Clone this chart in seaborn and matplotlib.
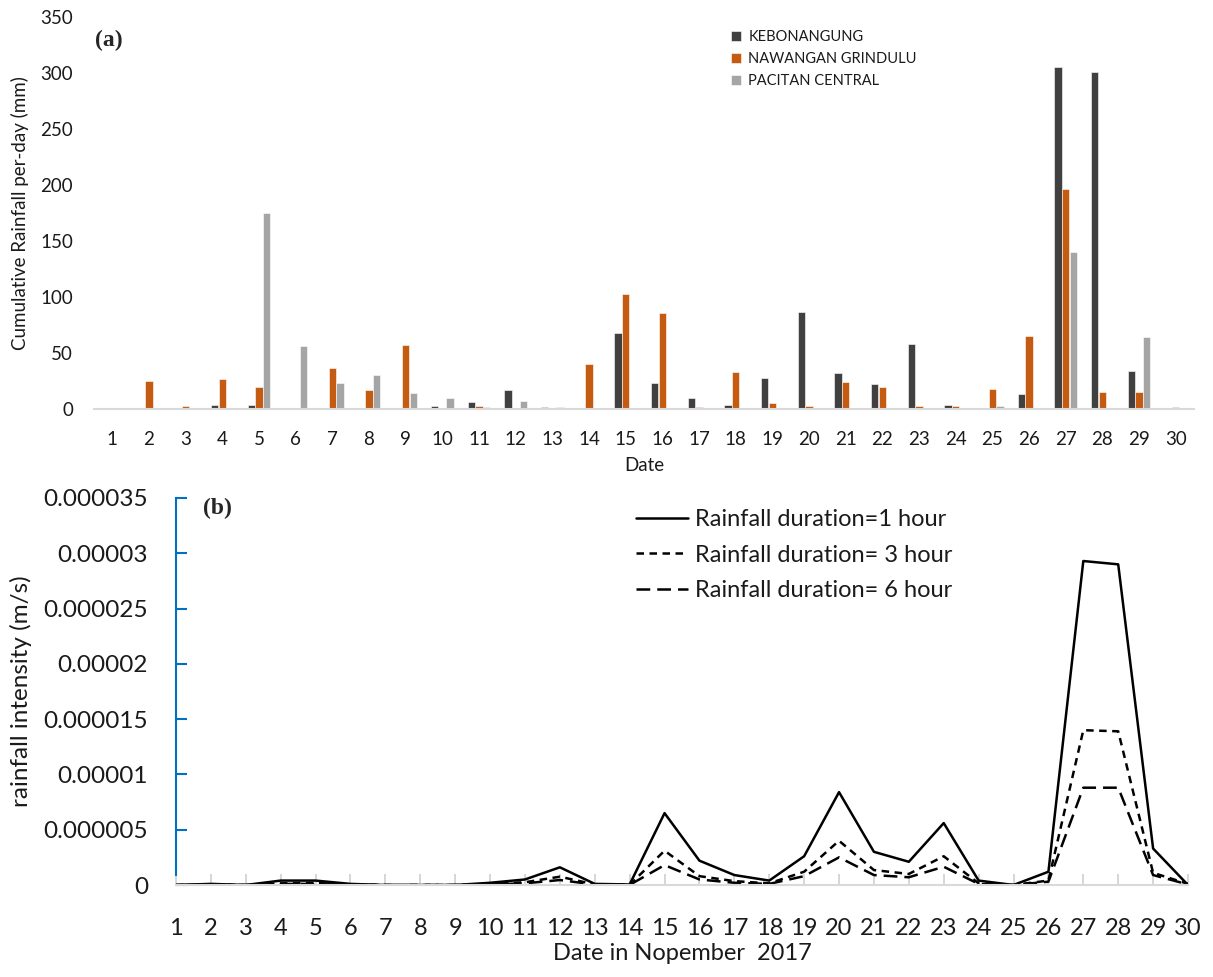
import matplotlib
matplotlib.use("Agg")
import matplotlib.pyplot as plt
import seaborn as sns
import pandas as pd

# ---------------- data ----------------
days = list(range(1, 31))
stations = ["KEBONANGUNG", "NAWANGAN GRINDULU", "PACITAN CENTRAL"]
kebonangung = [0, 1, 0, 4, 4, 1, 0, 0, 0, 3, 6, 17, 2, 1, 68, 23, 10, 4, 28, 87,
               32, 22, 58, 4, 0, 13, 305, 301, 34, 0]
nawangan = [0, 25, 3, 27, 20, 0, 37, 17, 57, 1, 3, 1, 0, 40, 103, 86, 2, 33, 5, 3,
            24, 20, 3, 3, 18, 65, 196, 15, 15, 2]
pacitan = [0, 0, 0, 0, 175, 56, 23, 30, 14, 10, 2, 7, 2, 1, 1, 0, 1, 0, 0, 0,
           0, 0, 0, 0, 3, 1, 140, 0, 64, 0]

durations = ["Rainfall duration=1 hour", "Rainfall duration= 3 hour", "Rainfall duration= 6 hour"]
int_1h = [0, 0.1e-6, 0, 0.4e-6, 0.4e-6, 0.1e-6, 0, 0, 0, 0.2e-6, 0.5e-6, 1.6e-6, 0.1e-6, 0.05e-6,
          6.5e-6, 2.2e-6, 0.9e-6, 0.4e-6, 2.6e-6, 8.4e-6, 3.0e-6, 2.1e-6, 5.6e-6, 0.4e-6, 0,
          1.2e-6, 29.3e-6, 29.0e-6, 3.3e-6, 0]
int_3h = [0, 0.05e-6, 0, 0.15e-6, 0.2e-6, 0.05e-6, 0, 0, 0, 0.1e-6, 0.25e-6, 0.75e-6, 0.05e-6, 0.02e-6,
          3.1e-6, 0.8e-6, 0.35e-6, 0.15e-6, 1.2e-6, 4.0e-6, 1.35e-6, 1.0e-6, 2.6e-6, 0.15e-6, 0,
          0.4e-6, 14.0e-6, 13.9e-6, 1.1e-6, 0.1e-6]
int_6h = [0, 0.03e-6, 0, 0.1e-6, 0.1e-6, 0.03e-6, 0, 0, 0, 0.05e-6, 0.15e-6, 0.45e-6, 0.03e-6, 0.01e-6,
          1.8e-6, 0.5e-6, 0.2e-6, 0.1e-6, 0.8e-6, 2.5e-6, 0.9e-6, 0.7e-6, 1.65e-6, 0.1e-6, 0,
          0.3e-6, 8.8e-6, 8.8e-6, 0.9e-6, 0.05e-6]

y2_ticks = [0, 5e-6, 10e-6, 15e-6, 20e-6, 25e-6, 30e-6, 35e-6]
y2_ticklabels = ["0", "0.000005", "0.00001", "0.000015", "0.00002", "0.000025", "0.00003", "0.000035"]

# ---------------- frames ----------------
df_bar = pd.DataFrame({
    "Date": days * 3,
    "Rainfall": kebonangung + nawangan + pacitan,
    "Station": [stations[0]] * 30 + [stations[1]] * 30 + [stations[2]] * 30,
})
df_line = pd.DataFrame({
    "Date": days * 3,
    "Intensity": int_1h + int_3h + int_6h,
    "Duration": [durations[0]] * 30 + [durations[1]] * 30 + [durations[2]] * 30,
})

sns.set_theme(style="white")
plt.rcParams["font.family"] = ["Lato", "DejaVu Sans"]

W, H = 1213, 977
fig = plt.figure(figsize=(W / 100, H / 100), dpi=100)

def px_axes(left, top, right, bottom):
    return fig.add_axes([left / W, 1 - bottom / H, (right - left) / W, (bottom - top) / H])

# ---------------- top panel ----------------
ax1 = px_axes(94, 17, 1194, 409)
palette = {stations[0]: "#404040", stations[1]: "#C55A11", stations[2]: "#A5A5A5"}
sns.barplot(data=df_bar, x="Date", y="Rainfall", hue="Station", hue_order=stations,
            order=days, palette=palette, width=0.63, gap=0.08, edgecolor="white",
            linewidth=0.4, saturation=1, ax=ax1)
ax1.set_xlim(-0.5, 29.5)
ax1.set_ylim(0, 350)
ax1.set_yticks(range(0, 351, 50))
for s in ["top", "right", "left"]:
    ax1.spines[s].set_visible(False)
ax1.spines["bottom"].set_color("#d9d9d9")
ax1.spines["bottom"].set_linewidth(1.5)
ax1.tick_params(axis="both", length=0, labelsize=13.5, labelcolor="#1a1a1a")
ax1.tick_params(axis="x", pad=16)
ax1.tick_params(axis="y", pad=15)
ax1.set_xlabel("Date", fontsize=13.5, labelpad=6, color="#1a1a1a")
ax1.set_ylabel("Cumulative Rainfall per-day (mm)", fontsize=13.5, labelpad=8, color="#1a1a1a")
ax1.grid(False)
leg1 = ax1.legend(loc="upper left", bbox_to_anchor=(731 / W, 1 - 30 / H),
                  bbox_transform=fig.transFigure, frameon=False, fontsize=10.5,
                  handlelength=0.7, handleheight=0.7, handletextpad=0.5,
                  labelspacing=0.55, borderaxespad=0, borderpad=0)
for t in leg1.get_texts():
    t.set_color("#1a1a1a")
fig.text(95 / W, 1 - 40 / H, "(a)", fontsize=17, fontweight="bold",
         family="Liberation Serif", va="center", ha="left")

# ---------------- bottom panel ----------------
ax2 = px_axes(176, 498, 1188, 885)
sns.lineplot(data=df_line, x="Date", y="Intensity", style="Duration", style_order=durations,
             dashes={durations[0]: "", durations[1]: (3, 2.2), durations[2]: (5.5, 2.8)},
             color="black", linewidth=1.8, ax=ax2)
ax2.set_xlim(1, 30)
ax2.set_ylim(0, 35e-6)
ax2.set_xticks(days)
ax2.set_xticklabels([str(d) for d in days])
ax2.set_yticks(y2_ticks)
ax2.set_yticklabels(y2_ticklabels)
for s in ["top", "right"]:
    ax2.spines[s].set_visible(False)
ax2.spines["bottom"].set_color("#d9d9d9")
ax2.spines["bottom"].set_linewidth(1.5)
ax2.spines["left"].set_color("#0070C0")
ax2.spines["left"].set_linewidth(1.5)
ax2.spines["left"].set_bounds(0.9e-6, 35e-6)
ax2.tick_params(axis="x", bottom=True, direction="in", length=8, width=1.2, color="#cfcfcf",
                labelsize=17, labelcolor="#1a1a1a", pad=24)
ax2.tick_params(axis="y", left=True, direction="in", length=8, width=1.5, color="#0070C0",
                labelsize=17.5, labelcolor="#1a1a1a", pad=20)
ax2.set_xlabel("Date in Nopember  2017", fontsize=17, labelpad=3, color="#1a1a1a")
ax2.set_ylabel("rainfall intensity (m/s)", fontsize=17.5, labelpad=8, color="#1a1a1a")
ax2.grid(False)
leg2 = ax2.legend(loc="upper left", bbox_to_anchor=(636 / W, 1 - 509 / H),
                  bbox_transform=fig.transFigure, frameon=False, fontsize=17,
                  handlelength=2.2, handletextpad=0.3, labelspacing=0.62,
                  borderaxespad=0, borderpad=0)
for t in leg2.get_texts():
    t.set_color("#1a1a1a")
fig.text(203 / W, 1 - 508 / H, "(b)", fontsize=17, fontweight="bold",
         family="Liberation Serif", va="center", ha="left")

fig.savefig("out.png", dpi=100, facecolor="white")
